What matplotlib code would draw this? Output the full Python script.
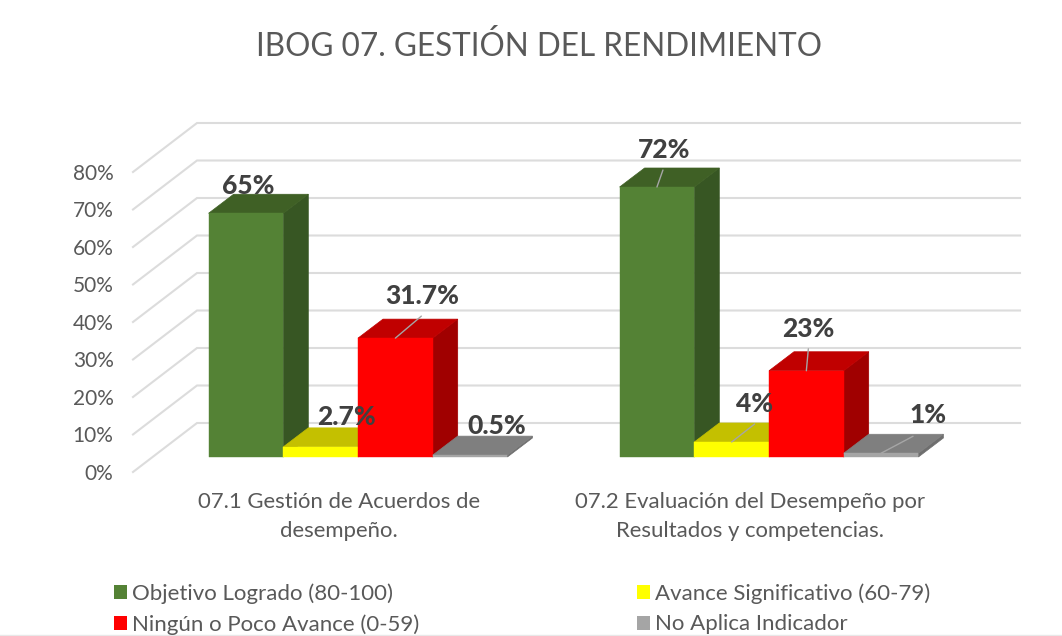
import numpy as np
import matplotlib
matplotlib.use('Agg')
import matplotlib.pyplot as plt
from matplotlib.patches import Polygon, Patch
from matplotlib.lines import Line2D

plt.rcParams['font.family'] = ['Lato', 'DejaVu Sans']

categorias = ['07.1 Gestión de Acuerdos de\ndesempeño.',
              '07.2 Evaluación del Desempeño por\nResultados y competencias.']
series = ['Objetivo Logrado (80-100)', 'Avance Significativo (60-79)',
          'Ningún o Poco Avance (0-59)', 'No Aplica Indicador']
objetivo = [65, 72]
avance = [2.7, 4]
ninguno = [31.7, 23]
no_aplica = [0.5, 1]
etiquetas = [['65%', '72%'], ['2.7%', '4%'], ['31.7%', '23%'], ['0.5%', '1%']]
ticks_y = [0, 10, 20, 30, 40, 50, 60, 70, 80]

W, H = 1062, 636
PX_X = 411.0   # pixeles por categoria
PX_Y = 3.75    # pixeles por 1%
ancho = 74.7 / PX_X
prof_x, prof_y = 25 / PX_X, 19 / PX_Y       # profundidad de la barra
suelo_x, suelo_y = 64 / PX_X, 49 / PX_Y     # profundidad de la pared
frente_y = 15 / PX_Y                        # la barra empieza detras del frente

colores = [('#548235', '#3F6025', '#375623'),
           ('#FFFF00', '#C4C000', '#A8A400'),
           ('#FF0000', '#C00000', '#A00000'),
           ('#A5A5A5', '#7F7F7F', '#6E6E6E')]

# desplazamientos (px) de texto y linea guia respecto al centro de la barra
offs_texto = [[(2, 27), (7, 37)], [(26, 30), (23, 38)], [(27, 42), (2, 42)], [(27, 29), (47, 38)]]
offs_guia = [[None, (6, 17)], [None, (23, 18)], [(26, 22), (2, 22)], [None, (32, 17)]]

fig = plt.figure(figsize=(W / 100, H / 100), dpi=100, facecolor='white')
ax = fig.add_axes([133 / W, 1 - 472 / H, (1020 - 133) / W, (472 - 123) / H])
ax.set_xlim((133 - 358) / PX_X, (1020 - 358) / PX_X)
ax.set_ylim(-frente_y, (472 - 123) / PX_Y - frente_y)
for s in ax.spines.values():
    s.set_visible(False)

# paredes: rejilla en perspectiva
x_izq = ax.get_xlim()[0]
x_der = ax.get_xlim()[1]
for t in ticks_y:
    ax.plot([x_izq, x_izq + suelo_x, x_der], [t - frente_y, t - frente_y + suelo_y, t - frente_y + suelo_y],
            color='#DCDCDC', lw=1.5, clip_on=False, zorder=1, solid_joinstyle='miter')

x = np.arange(len(categorias))
valores = [objetivo, avance, ninguno, no_aplica]
z = 2
for i, vals in enumerate(valores):
    pos = x + (i - 1.5) * ancho
    front, top, side = colores[i]
    for p, v in zip(pos, vals):
        iz, de = p - ancho / 2, p + ancho / 2
        ax.add_patch(Polygon([(de, 0), (de + prof_x, prof_y), (de + prof_x, v + prof_y), (de, v)],
                             fc=side, ec=side, lw=0.5, zorder=z, clip_on=False))
        ax.add_patch(Polygon([(iz, v), (de, v), (de + prof_x, v + prof_y), (iz + prof_x, v + prof_y)],
                             fc=top, ec=top, lw=0.5, zorder=z, clip_on=False))
    ax.bar(pos, vals, width=ancho, color=front, edgecolor=front, linewidth=0.3, zorder=z + 1, clip_on=False)
    z += 2

# etiquetas de datos con su linea guia
for i, vals in enumerate(valores):
    pos = x + (i - 1.5) * ancho
    for j, v in enumerate(vals):
        if offs_guia[i][j] is not None:
            gx, gy = offs_guia[i][j]
            ax.annotate('', xy=(pos[j], v), xytext=(gx * 0.72, gy * 0.72), textcoords='offset points',
                        arrowprops=dict(arrowstyle='-', color='#A6A6A6', lw=1, shrinkA=0, shrinkB=0),
                        zorder=20)
        tx, ty = offs_texto[i][j]
        ax.annotate(etiquetas[i][j], xy=(pos[j], v), xytext=(tx * 0.72, ty * 0.72), textcoords='offset points',
                    ha='center', va='center', fontsize=19, fontweight='black', color='#404040', zorder=21)

# ejes
ax.set_yticks([t - frente_y for t in ticks_y], [f'{t}%' for t in ticks_y])
ax.set_xticks(x - 19 / PX_X, categorias)
ax.tick_params(axis='y', length=0, pad=14, labelsize=15, labelcolor='#595959')
ax.tick_params(axis='x', length=0, pad=14.5, labelsize=15.9, labelcolor='#595959')
for lab in ax.get_xticklabels():
    lab.set_linespacing(1.54)

fig.text(539 / W, 1 - 47 / H, 'IBOG 07. GESTIÓN DEL RENDIMIENTO', ha='center', va='center',
         fontsize=22.7, color='#595959')

# leyenda (se llena por columnas)
orden = [0, 2, 1, 3]
handles = [Patch(fc=colores[k][0], ec='none') for k in orden]
fig.legend(handles, [series[k] for k in orden], ncol=2, frameon=False, fontsize=16,
           labelcolor='#595959', loc='lower left', bbox_to_anchor=(94 / W, 1 - 655 / H),
           handlelength=0.6, handleheight=0.6, handletextpad=0.2, columnspacing=9.8,
           labelspacing=0.46)

fig.add_artist(Line2D([0, 1], [1 - 634.5 / H] * 2, color='#E8E8E8', lw=1))
fig.savefig('out.png', dpi=100, facecolor='white')
